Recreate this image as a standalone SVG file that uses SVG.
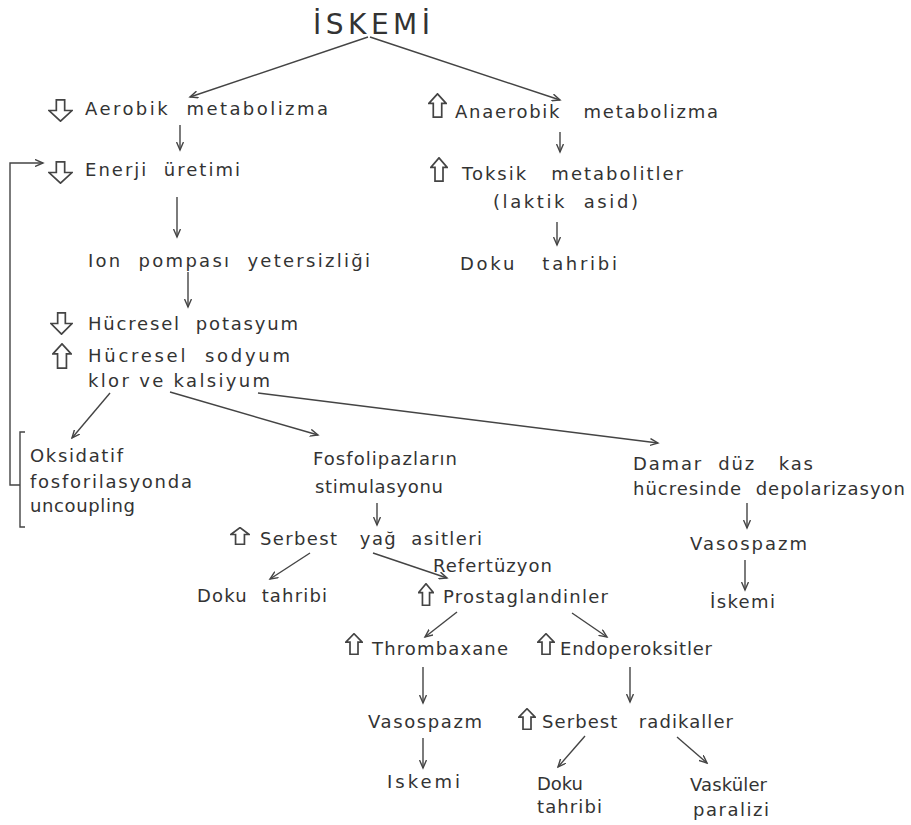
<svg xmlns="http://www.w3.org/2000/svg" xmlns:xlink="http://www.w3.org/1999/xlink" width="911" height="825" viewBox="0 0 911 825">
<style>
text{font-family:"DejaVu Sans","Liberation Sans",sans-serif;font-size:18px;fill:#333;white-space:pre;}
.t{font-size:28px;}
.c{fill:none;stroke:#444;stroke-width:1.4;marker-end:url(#ah);}
.b{fill:none;stroke:#444;stroke-width:1.4;}
.h{fill:#fff;stroke:#444;stroke-width:1.7;vector-effect:non-scaling-stroke;}
</style>
<defs>
<marker id="ah" markerWidth="10" markerHeight="8" refX="8" refY="4" orient="auto" markerUnits="userSpaceOnUse">
<path d="M0,0.5 L8,4 L0,7.5" fill="none" stroke="#444" stroke-width="1.4"/>
</marker>
<symbol id="dn" viewBox="0 0 24 22" preserveAspectRatio="none">
<path class="h" d="M8,0.8 H16 V11 H23 L12,21.2 L1,11 H8 Z"/>
</symbol>
<symbol id="up" viewBox="0 0 18 24" preserveAspectRatio="none">
<path class="h" d="M5,23.2 H13 V10 H17.2 L9,0.8 L0.8,10 H5 Z"/>
</symbol>
</defs>
<rect width="911" height="825" fill="#fff"/>

<g id="connectors">
<path class="c" d="M368,37 L190,97"/>
<path class="c" d="M370,37 L560,100"/>
<path class="c" d="M180,125 V150"/>
<path class="c" d="M177,197 V237"/>
<path class="c" d="M188,272 V307"/>
<path class="c" d="M20,485 H10 V163 H43"/>
<path class="b" d="M25,432 H20 V527 H25"/>
<path class="c" d="M110,393 L72,438"/>
<path class="c" d="M170,392 L318,435"/>
<path class="c" d="M258,393 L658,443"/>
<path class="c" d="M377,503 V525"/>
<path class="c" d="M310,553 L270,579"/>
<path class="c" d="M373,553 L447,578"/>
<path class="c" d="M457,612 L425,637"/>
<path class="c" d="M572,613 L607,637"/>
<path class="c" d="M423,667 V703"/>
<path class="c" d="M423,738 V768"/>
<path class="c" d="M630,667 V702"/>
<path class="c" d="M585,736 L558,767"/>
<path class="c" d="M677,737 L707,763"/>
<path class="c" d="M560,132 V152"/>
<path class="c" d="M557,222 V245"/>
<path class="c" d="M747,503 V528"/>
<path class="c" d="M745,560 V590"/>
</g>

<g id="iskemi-top"><text class="t" x="313" y="34" textLength="117" lengthAdjust="spacing">İSKEMİ</text></g>

<g id="aerobik"><use href="#dn" x="48" y="99" width="25" height="23"/><text x="85" y="115" textLength="243" lengthAdjust="spacing">Aerobik  metabolizma</text></g>
<g id="enerji"><use href="#dn" x="48" y="161" width="25" height="23"/><text x="85" y="176" textLength="155" lengthAdjust="spacing">Enerji  üretimi</text></g>
<g id="ion"><text x="88" y="267" textLength="282" lengthAdjust="spacing">Ion  pompası  yetersizliği</text></g>
<g id="hucresel">
<use href="#dn" x="50" y="312" width="23" height="23"/><text x="88" y="330" textLength="210" lengthAdjust="spacing">Hücresel  potasyum</text>
<use href="#up" x="52" y="343" width="20" height="26"/><text x="88" y="362" textLength="202" lengthAdjust="spacing">Hücresel  sodyum</text>
<text x="88" y="387" textLength="182" lengthAdjust="spacing">klor ve kalsiyum</text>
</g>
<g id="oksidatif">
<text x="30" y="462" textLength="93" lengthAdjust="spacing">Oksidatif</text>
<text x="30" y="488" textLength="162" lengthAdjust="spacing">fosforilasyonda</text>
<text x="30" y="512" textLength="105" lengthAdjust="spacing">uncoupling</text>
</g>
<g id="fosfolipaz">
<text x="313" y="465" textLength="144" lengthAdjust="spacing">Fosfolipazların</text>
<text x="315" y="493" textLength="128" lengthAdjust="spacing">stimulasyonu</text>
</g>
<g id="serbest-yag"><use href="#up" x="230" y="527" width="20" height="18"/><text x="260" y="545" textLength="222" lengthAdjust="spacing">Serbest   yağ  asitleri</text></g>
<g id="refertuzyon"><text x="433" y="572" textLength="119" lengthAdjust="spacing">Refertüzyon</text></g>
<g id="doku-1"><text x="197" y="602" textLength="130" lengthAdjust="spacing">Doku  tahribi</text></g>
<g id="prostaglandin"><use href="#up" x="418" y="583" width="16" height="23"/><text x="443" y="603" textLength="165" lengthAdjust="spacing">Prostaglandinler</text></g>
<g id="thrombaxane"><use href="#up" x="345" y="633" width="18" height="22"/><text x="372" y="655" textLength="136" lengthAdjust="spacing">Thrombaxane</text></g>
<g id="endoperoksit"><use href="#up" x="537" y="633" width="18" height="22"/><text x="560" y="655" textLength="152" lengthAdjust="spacing">Endoperoksitler</text></g>
<g id="vasospazm-1"><text x="368" y="728" textLength="114" lengthAdjust="spacing">Vasospazm</text></g>
<g id="iskemi-1"><text x="387" y="788" textLength="73" lengthAdjust="spacing">Iskemi</text></g>
<g id="serbest-radikal"><use href="#up" x="518" y="708" width="18" height="22"/><text x="542" y="728" textLength="191" lengthAdjust="spacing">Serbest   radikaller</text></g>
<g id="doku-2">
<text x="537" y="790" textLength="46" lengthAdjust="spacing">Doku</text>
<text x="537" y="813" textLength="65" lengthAdjust="spacing">tahribi</text>
</g>
<g id="vaskuler">
<text x="690" y="791" textLength="77" lengthAdjust="spacing">Vasküler</text>
<text x="693" y="816" textLength="76" lengthAdjust="spacing">paralizi</text>
</g>
<g id="anaerobik"><use href="#up" x="428" y="93" width="19" height="25"/><text x="455" y="118" textLength="263" lengthAdjust="spacing">Anaerobik   metabolizma</text></g>
<g id="toksik">
<use href="#up" x="430" y="157" width="18" height="25"/><text x="462" y="180" textLength="221" lengthAdjust="spacing">Toksik   metabolitler</text>
<text x="493" y="208" textLength="145" lengthAdjust="spacing">(laktik  asid)</text>
</g>
<g id="doku-3"><text x="460" y="270" textLength="157" lengthAdjust="spacing">Doku   tahribi</text></g>
<g id="damar">
<text x="633" y="470" textLength="180" lengthAdjust="spacing">Damar  düz   kas</text>
<text x="633" y="495" textLength="272" lengthAdjust="spacing">hücresinde  depolarizasyon</text>
</g>
<g id="vasospazm-2"><text x="690" y="550" textLength="117" lengthAdjust="spacing">Vasospazm</text></g>
<g id="iskemi-2"><text x="710" y="608" textLength="65" lengthAdjust="spacing">İskemi</text></g>
</svg>
